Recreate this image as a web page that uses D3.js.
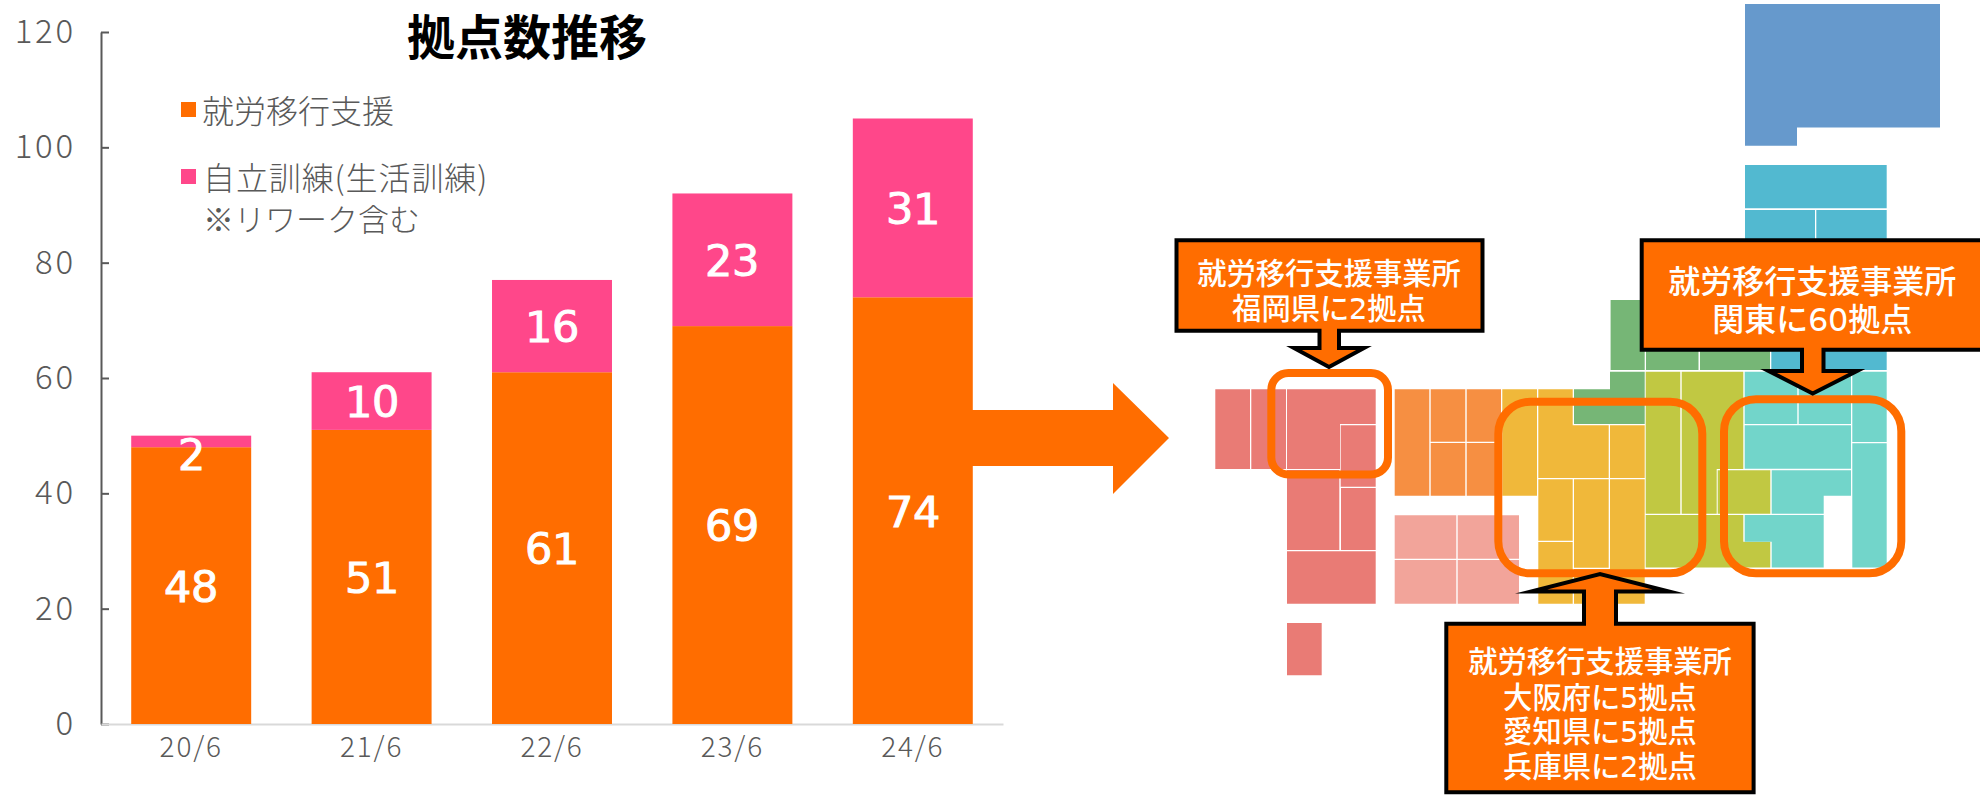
<!DOCTYPE html>
<html>
<head>
<meta charset="utf-8">
<script src="https://cdn.jsdelivr.net/npm/d3@7"></script>
<style>
  @font-face { font-family: "Digits"; src: local("DejaVu Sans"); unicode-range: U+30-39; }
  html, body { margin: 0; padding: 0; background: #fff; overflow: hidden; }
  text { font-family: "Noto Sans CJK JP", sans-serif; }
  text.wide { font-family: "Digits", "Noto Sans CJK JP", sans-serif; }
</style>
</head>
<body>
<div id="chart"></div>
<script>
// chart values
const periods = ["20/6", "21/6", "22/6", "23/6", "24/6"];
const employment = [48, 51, 61, 69, 74];
const training = [2, 10, 16, 23, 31];
const yTicks = [0, 20, 40, 60, 80, 100, 120];
const legendNames = [["就労移行支援"], ["自立訓練(生活訓練)", "※リワーク含む"]];
const calloutFukuoka = ["就労移行支援事業所", "福岡県に2拠点"];
const calloutKanto = ["就労移行支援事業所", "関東に60拠点"];
const calloutKansai = ["就労移行支援事業所", "大阪府に5拠点", "愛知県に5拠点", "兵庫県に2拠点"];

const ORANGE = "#ff6d00", PINK = "#ff478a", GREY = "#595959";

const svg = d3.select("#chart")
  .append("svg")
    .attr("width", 1980)
    .attr("height", 795);

// scales
const x = d3.scaleBand().domain(periods).range([101, 1003]).paddingInner(0.335).paddingOuter(0.1675);
const y = d3.scaleLinear().domain([0, 120]).range([724, 32]);

// axes
const yAxis = svg.append("g")
  .attr("transform", "translate(101,0)")
  .call(d3.axisLeft(y).tickValues(yTicks).tickSizeInner(-8).tickSizeOuter(0).tickPadding(25));
yAxis.selectAll("path, line").attr("stroke", GREY).attr("stroke-width", 2);
yAxis.selectAll("text")
  .attr("fill", GREY).attr("font-size", 33).attr("font-weight", 300)
  .attr("letter-spacing", 2.8)
  .style("font-family", '"Noto Sans CJK JP", sans-serif');

const xAxis = svg.append("g")
  .attr("transform", "translate(0,724)")
  .call(d3.axisBottom(x).tickSize(0).tickPadding(13));
xAxis.select("path").attr("stroke", "#d9d9d9").attr("stroke-width", 2);
xAxis.selectAll("text")
  .attr("fill", GREY).attr("font-size", 28).attr("font-weight", 300)
  .attr("letter-spacing", 1.8)
  .style("font-family", '"Noto Sans CJK JP", sans-serif');

// stacked bars
svg.append("g").selectAll("rect")
  .data(periods)
  .join("rect")
    .attr("x", d => x(d))
    .attr("width", x.bandwidth())
    .attr("y", (d, i) => y(employment[i]))
    .attr("height", (d, i) => y(0) - y(employment[i]))
    .attr("fill", ORANGE);

svg.append("g").selectAll("rect")
  .data(periods)
  .join("rect")
    .attr("x", d => x(d))
    .attr("width", x.bandwidth())
    .attr("y", (d, i) => y(employment[i] + training[i]))
    .attr("height", (d, i) => y(employment[i]) - y(employment[i] + training[i]))
    .attr("fill", PINK);

// value labels, the small "2" sits just below its bar
const valueLabel = (sel, cy) => sel
  .attr("class", "wide")
  .attr("x", d => x(d) + x.bandwidth() / 2)
  .attr("y", cy)
  .attr("text-anchor", "middle")
  .attr("dominant-baseline", "central")
  .attr("fill", "#fff")
  .attr("font-size", 43)
  .attr("font-weight", 500)
  .attr("stroke", "#fff")
  .attr("stroke-width", 1);

svg.append("g").selectAll("text")
  .data(periods)
  .join("text")
    .call(valueLabel, (d, i) => y(employment[i] / 2) - 3)
    .text((d, i) => employment[i]);

svg.append("g").selectAll("text")
  .data(periods)
  .join("text")
    .call(valueLabel, (d, i) => y(employment[i] + training[i] / 2) + (training[i] < 5 ? 10 : -3))
    .text((d, i) => training[i]);

// title
svg.append("text")
  .attr("x", 527).attr("y", 34)
  .attr("text-anchor", "middle").attr("dominant-baseline", "central")
  .attr("font-size", 48).attr("font-weight", 700).attr("fill", "#000")
  .text("拠点数推移");

// legend
const legendSquares = [[181, 102, ORANGE], [181, 169, PINK]];
legendSquares.forEach(([lx, ly, c]) => {
  svg.append("rect").attr("x", lx).attr("y", ly).attr("width", 15).attr("height", 15).attr("fill", c);
});
[[202, 109, legendNames[0][0], 32, 0], [203, 176, legendNames[1][0], 32, 0.9], [203, 217, legendNames[1][1], 31, 0]].forEach(([lx, ly, t, fs, ls]) => {
  svg.append("text")
    .attr("x", lx).attr("y", ly)
    .attr("dominant-baseline", "central")
    .attr("font-size", fs).attr("font-weight", 300).attr("fill", GREY)
    .attr("letter-spacing", ls)
    .text(t);
});

// big arrow from chart to map
const polyLine = d3.line().curve(d3.curveLinearClosed);
svg.append("path")
  .attr("d", polyLine([[970, 410], [1113, 410], [1113, 383], [1169, 438], [1113, 494], [1113, 466], [970, 466]]))
  .attr("fill", ORANGE);

// schematic map of Japan, page pixels, one list per region colour
const mapTiles = [
  { fill: "#6699cc", shapes: [
    [[1745, 4], [1940, 4], [1940, 127.5], [1797, 127.5], [1797, 145.7], [1745, 145.7]]
  ]},
  { fill: "#52b9d0", shapes: [
    [[1745, 165], [1886.7, 165], [1886.7, 208.3], [1745, 208.3]],
    [[1745, 210], [1815, 210], [1815, 300], [1745, 300]],
    [[1816.3, 210], [1886.7, 210], [1886.7, 300], [1816.3, 300]],
    [[1771.3, 300], [1886.7, 300], [1886.7, 370], [1771.3, 370]]
  ]},
  { fill: "#76b676", shapes: [
    [[1610.6, 300], [1644.7, 300], [1644.7, 370], [1610.6, 370]],
    [[1646, 300], [1698.5, 300], [1698.5, 370], [1646, 370]],
    [[1700, 300], [1770, 300], [1770, 370], [1700, 370]],
    [[1574, 389.3], [1610, 389.3], [1610, 371.7], [1644.7, 371.7], [1644.7, 424], [1574, 424]]
  ]},
  { fill: "#c1c842", shapes: [
    [[1645.7, 371.7], [1680.3, 371.7], [1680.3, 513.7], [1645.7, 513.7]],
    [[1681.7, 371.7], [1743.3, 371.7], [1743.3, 469], [1716.7, 469], [1716.7, 513.7], [1681.7, 513.7]],
    [[1717.7, 470.3], [1770.3, 470.3], [1770.3, 513.7], [1717.7, 513.7]],
    [[1645.7, 515], [1743.3, 515], [1743.3, 541.7], [1770.3, 541.7], [1770.3, 567.5], [1645.7, 567.5]]
  ]},
  { fill: "#72d5ca", shapes: [
    [[1744.7, 371.7], [1797.3, 371.7], [1797.3, 424], [1744.7, 424]],
    [[1798.7, 371.7], [1851, 371.7], [1851, 424], [1798.7, 424]],
    [[1852.3, 371.7], [1886.7, 371.7], [1886.7, 442], [1852.3, 442]],
    [[1744.7, 425.3], [1851, 425.3], [1851, 468.7], [1744.7, 468.7]],
    [[1852.3, 443.3], [1886.7, 443.3], [1886.7, 567.5], [1852.3, 567.5]],
    [[1771.7, 470.3], [1851, 470.3], [1851, 495.7], [1823.7, 495.7], [1823.7, 513.7], [1771.7, 513.7]],
    [[1744.7, 515], [1823.7, 515], [1823.7, 567.5], [1771.7, 567.5], [1771.7, 541.7], [1744.7, 541.7]]
  ]},
  { fill: "#f0b83a", shapes: [
    [[1502.3, 389.3], [1537, 389.3], [1537, 495.7], [1502.3, 495.7]],
    [[1538.3, 389.3], [1572.7, 389.3], [1572.7, 425.3], [1608.7, 425.3], [1608.7, 478], [1538.3, 478]],
    [[1610, 425.3], [1644.7, 425.3], [1644.7, 478], [1610, 478]],
    [[1538.3, 479.3], [1572.7, 479.3], [1572.7, 540.7], [1538.3, 540.7]],
    [[1538.3, 542], [1572.7, 542], [1572.7, 603.7], [1538.3, 603.7]],
    [[1574, 479.3], [1608.7, 479.3], [1608.7, 567.7], [1574, 567.7]],
    [[1610, 479.3], [1644.7, 479.3], [1644.7, 603.7], [1574, 603.7], [1574, 569], [1610, 569]]
  ]},
  { fill: "#f68f42", shapes: [
    [[1394.7, 389.3], [1429.3, 389.3], [1429.3, 495.7], [1394.7, 495.7]],
    [[1430.7, 389.3], [1465.3, 389.3], [1465.3, 441.7], [1430.7, 441.7]],
    [[1430.7, 443], [1465.3, 443], [1465.3, 495.7], [1430.7, 495.7]],
    [[1466.7, 389.3], [1501, 389.3], [1501, 441.7], [1466.7, 441.7]],
    [[1466.7, 443], [1501, 443], [1501, 495.7], [1466.7, 495.7]]
  ]},
  { fill: "#f2a49a", shapes: [
    [[1394.7, 515.3], [1456.3, 515.3], [1456.3, 558.7], [1394.7, 558.7]],
    [[1457.7, 515.3], [1519, 515.3], [1519, 558.7], [1457.7, 558.7]],
    [[1394.7, 560], [1456.3, 560], [1456.3, 603.7], [1394.7, 603.7]],
    [[1457.7, 560], [1519, 560], [1519, 603.7], [1457.7, 603.7]]
  ]},
  { fill: "#e97b75", shapes: [
    [[1215.3, 389.3], [1250, 389.3], [1250, 469], [1215.3, 469]],
    [[1251.3, 389.3], [1286, 389.3], [1286, 469], [1251.3, 469]],
    [[1287, 389.3], [1375.7, 389.3], [1375.7, 424], [1340, 424], [1340, 469], [1287, 469]],
    [[1340.7, 425.3], [1375.7, 425.3], [1375.7, 486.7], [1340.7, 486.7]],
    [[1287, 470], [1339.3, 470], [1339.3, 550], [1287, 550]],
    [[1341, 488], [1375.7, 488], [1375.7, 550], [1341, 550]],
    [[1287, 551.3], [1375.7, 551.3], [1375.7, 603.7], [1287, 603.7]],
    [[1287, 623], [1321.7, 623], [1321.7, 675.3], [1287, 675.3]]
  ]}
];

svg.append("g").selectAll("g")
  .data(mapTiles)
  .join("g")
    .attr("fill", d => d.fill)
  .selectAll("path")
  .data(d => d.shapes)
  .join("path")
    .attr("d", polyLine);

// orange rings round the highlighted areas
const rings = [
  [1271.3, 373, 116.7, 101.5, 17],
  [1498.3, 401.7, 204, 171.6, 32],
  [1724, 399.3, 177.3, 174, 32]
];
svg.append("g").selectAll("rect")
  .data(rings)
  .join("rect")
    .attr("x", d => d[0]).attr("y", d => d[1])
    .attr("width", d => d[2]).attr("height", d => d[3])
    .attr("rx", d => d[4]).attr("ry", d => d[4])
    .attr("fill", "none")
    .attr("stroke", ORANGE)
    .attr("stroke-width", 8);

// callouts: box with a block arrow drawn as one outline
function callout(outline, cx, lines, rowYs, size) {
  svg.append("path")
    .attr("d", polyLine(outline))
    .attr("fill", ORANGE)
    .attr("stroke", "#000")
    .attr("stroke-width", 4)
    .attr("stroke-linejoin", "miter")
    .attr("stroke-miterlimit", 12);
  lines.forEach((t, i) => {
    svg.append("text")
      .attr("class", "wide")
      .attr("x", cx).attr("y", rowYs[i])
      .attr("text-anchor", "middle").attr("dominant-baseline", "central")
      .attr("font-size", size).attr("font-weight", 500).attr("fill", "#fff")
      .text(t);
  });
}

callout(
  [[1176.5, 240.3], [1482.5, 240.3], [1482.5, 330.7], [1339, 330.7], [1339, 348], [1364, 348], [1329, 367],
   [1294, 348], [1319.5, 348], [1319.5, 330.7], [1176.5, 330.7]],
  1329, calloutFukuoka, [270.7, 306], 29.3);

callout(
  [[1641.7, 240.3], [1990, 240.3], [1990, 349.7], [1823.5, 349.7], [1823.5, 371], [1857, 371], [1812.7, 393.5],
   [1768.5, 371], [1802, 371], [1802, 349.7], [1641.7, 349.7]],
  1812.3, calloutKanto, [279, 316.7], 32);

callout(
  [[1446.3, 623.7], [1584, 623.7], [1584, 591.5], [1531, 591.5], [1600, 574], [1669, 591.5], [1616, 591.5],
   [1616, 623.7], [1753.6, 623.7], [1753.6, 792.3], [1446.3, 792.3]],
  1600, calloutKansai, [659, 695, 729, 764], 29.3);
</script>
</body>
</html>
